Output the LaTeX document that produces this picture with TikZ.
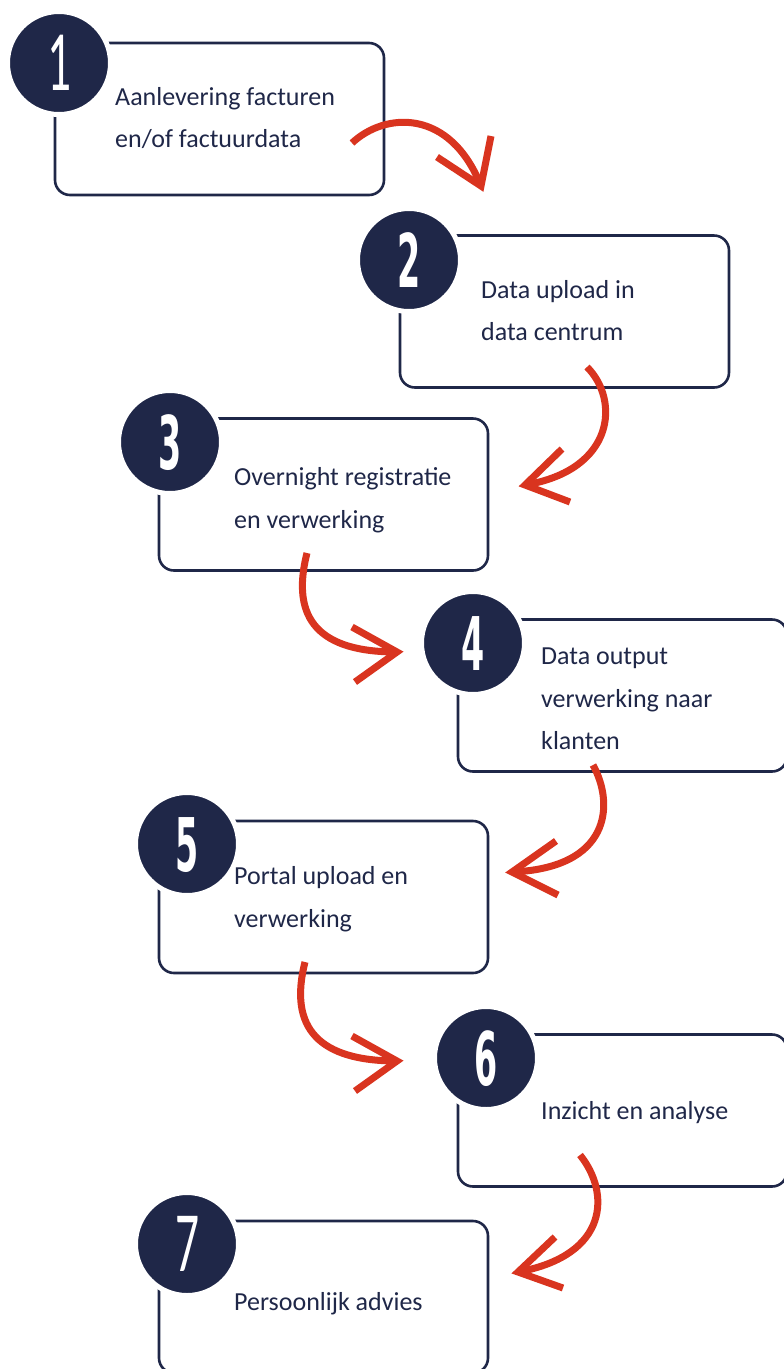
\documentclass[tikz,border=0pt]{standalone}
\usepackage{fontspec}
\setmainfont{Carlito}
\newfontfamily\digitfont{DejaVu Sans}
\newfontfamily\digitfontb{Carlito}
\definecolor{navy}{RGB}{31,39,72}
\definecolor{arrred}{RGB}{217,52,31}
\begin{document}
\begin{tikzpicture}[x=1pt,y=-1pt,
  box/.style={draw=navy,line width=2.6pt,rounded corners=15pt,minimum width=329pt,minimum height=152pt,inner sep=0pt},
  circ/.style={circle,fill=navy,draw=white,line width=5pt,minimum size=103pt,inner sep=0pt},
  num/.style={text=white,inner sep=0pt,anchor=base,font=\digitfont\bfseries\fontsize{74}{74}\selectfont},
  numb/.style={text=white,inner sep=0pt,anchor=base,font=\digitfontb\fontsize{86}{86}\selectfont},
  lbl/.style={text=navy,inner sep=0pt,anchor=base west,font=\fontsize{26}{26}\selectfont},
  arr/.style={draw=arrred,line width=7pt,line cap=butt},
  head/.style={draw=arrred,line width=7pt,line cap=butt,line join=miter}]
\useasboundingbox (0,0) rectangle (784,1369);
% boxes
\node[box] (b1) at (219.5,119) {};
\node[box] (b2) at (564.5,311.5) {};
\node[box] (b3) at (323.5,494.5) {};
\node[box] (b4) at (622.5,695.5) {};
\node[box] (b5) at (323.5,897) {};
\node[box] (b6) at (622.5,1110.5) {};
\node[box] (b7) at (323.5,1297) {};
% circles
\node[circ] (c1) at (59,63) {};
\node[circ] (c2) at (409,260) {};
\node[circ] (c3) at (170,442) {};
\node[circ] (c4) at (473,643) {};
\node[circ] (c5) at (187,844) {};
\node[circ] (c6) at (486,1058) {};
\node[circ] (c7) at (187,1244) {};
% numbers
\node[numb] (n1) at ([yshift=-27pt]c1.center) {\scalebox{0.55}[1]{1}};
\node[num] (n2) at ([yshift=-27pt]c2.center) {\scalebox{0.45}[1]{2}};
\node[num] (n3) at ([yshift=-27pt]c3.center) {\scalebox{0.45}[1]{3}};
\node[num] (n4) at ([yshift=-27pt]c4.center) {\scalebox{0.45}[1]{4}};
\node[num] (n5) at ([yshift=-27pt]c5.center) {\scalebox{0.45}[1]{5}};
\node[num] (n6) at ([yshift=-27pt]c6.center) {\scalebox{0.45}[1]{6}};
\node[numb] (n7) at ([yshift=-27pt]c7.center) {\scalebox{0.55}[1]{7}};
% labels
\node[lbl] (t1a) at (115,105) {Aanlevering facturen};
\node[lbl] (t1b) at (115,147) {en/of factuurdata};
\node[lbl] (t2a) at (481,298) {Data upload in};
\node[lbl] (t2b) at (481,340) {data centrum};
\node[lbl] (t3a) at (234,485) {Overnight registratie};
\node[lbl] (t3b) at (234,528) {en verwerking};
\node[lbl] (t4a) at (541,664) {Data output};
\node[lbl] (t4b) at (541,707) {verwerking naar};
\node[lbl] (t4c) at (541,749) {klanten};
\node[lbl] (t5a) at (234,884) {Portal upload en};
\node[lbl] (t5b) at (234,927) {verwerking};
\node[lbl] (t6a) at (541,1119) {Inzicht en analyse};
\node[lbl] (t7a) at (234,1310) {Persoonlijk advies};
% arrows
\coordinate (a1s) at (352,143); \coordinate (a1t) at (481,186);
\coordinate (a1l) at (491,136); \coordinate (a1r) at (437,157);
\draw[arr] (a1s) .. controls (385,112) and (450,108) .. (a1t);
\draw[head] (a1l) -- (a1t) -- (a1r);
\coordinate (a2s) at (587,367); \coordinate (a2t) at (525,485);
\coordinate (a2l) at (562,449); \coordinate (a2r) at (570,502);
\draw[arr] (a2s) .. controls (620,400) and (615,470) .. (a2t);
\draw[head] (a2l) -- (a2t) -- (a2r);
\coordinate (a3s) at (307,553); \coordinate (a3t) at (397,652);
\coordinate (a3l) at (352,627); \coordinate (a3r) at (355,682);
\draw[arr] (a3s) .. controls (290,620) and (320,652) .. (a3t);
\draw[head] (a3l) -- (a3t) -- (a3r);
\coordinate (a4s) at (593,765); \coordinate (a4t) at (512,872);
\coordinate (a4l) at (556,841); \coordinate (a4r) at (558,895);
\draw[arr] (a4s) .. controls (615,805) and (610,868) .. (a4t);
\draw[head] (a4l) -- (a4t) -- (a4r);
\coordinate (a5s) at (305,962); \coordinate (a5t) at (397,1061);
\coordinate (a5l) at (352,1036); \coordinate (a5r) at (355,1091);
\draw[arr] (a5s) .. controls (288,1029) and (320,1061) .. (a5t);
\draw[head] (a5l) -- (a5t) -- (a5r);
\coordinate (a6s) at (580,1155); \coordinate (a6t) at (518,1272);
\coordinate (a6l) at (555,1237); \coordinate (a6r) at (563,1288);
\draw[arr] (a6s) .. controls (610,1192) and (610,1255) .. (a6t);
\draw[head] (a6l) -- (a6t) -- (a6r);
\end{tikzpicture}
\end{document}
